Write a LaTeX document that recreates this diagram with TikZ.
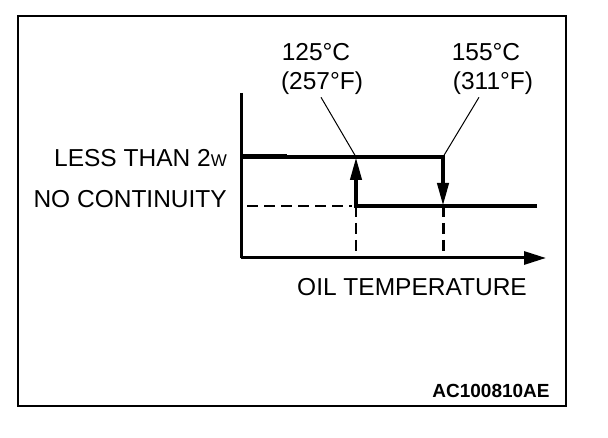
\documentclass[tikz,border=0pt]{standalone}
\usepackage{fontspec}
\setmainfont{Liberation Sans}
\usetikzlibrary{arrows.meta}

\tikzset{
  label text/.style={inner sep=0pt, anchor=base, font=\fontsize{24.5}{29}\selectfont},
  step line/.style={line width=4pt, line join=miter},
  axis line/.style={line width=3pt},
  guide dash/.style={line width=1.3pt, dash pattern=on 11pt off 6pt},
  leader/.style={line width=1pt}
}

\begin{document}
\begin{tikzpicture}[x=1pt, y=-1pt]
\useasboundingbox (0,0) rectangle (608,438);

% frame
\draw [line width=1.5pt] (18,16) rectangle (566,406);

% axes
\coordinate (o) at (241,258);
\coordinate (ytop) at (241,93);
\coordinate (xend) at (546,258);
\draw [axis line] (ytop) -- (o);
\draw [axis line, -{Triangle[length=22pt,width=13pt]}] (o) -- (xend);

% switching points
\coordinate (hi0) at (241,157);
\coordinate (hiA) at (356,157);
\coordinate (hiB) at (443,157);
\coordinate (loA) at (356,206);
\coordinate (loB) at (443,206);
\coordinate (lo1) at (537,206);
\coordinate (baseA) at (356,258);
\coordinate (baseB) at (443,258);
\coordinate (dash0) at (247,206);

\draw [line width=5pt] (hi0) -- (287,157);
\draw [step line, -{Triangle[length=23pt,width=11pt]}] (hi0) -- (hiB) -- (loB);
\draw [step line, -{Triangle[length=23pt,width=11pt]}] (lo1) -- (loA) -- (hiA);

\draw [guide dash] (dash0) -- ([xshift=-4pt]loA);
\draw [guide dash] (loA) -- (baseA);
\draw [guide dash, line width=3pt] (loB) -- (baseB);

% labels
\node [label text] (cA) at (316,61) {125°C};
\node [label text] (fA) at (322,90) {(257°F)};
\node [label text] (cB) at (486,61) {155°C};
\node [label text] (fB) at (493,90) {(311°F)};
\node [label text, anchor=base east] (less) at (227,167) {LESS THAN 2{\fontsize{17}{17}\selectfont W}};
\node [label text, anchor=base east] (none) at (227,208) {NO CONTINUITY};
\node [label text] (oil) at (412,296) {OIL TEMPERATURE};
\node [inner sep=0pt, anchor=base, font=\fontsize{19}{22}\selectfont\bfseries] (code) at (491,397) {AC100810AE};

\draw [leader] ([xshift=-1pt,yshift=-2pt]fA.south) -- (hiA);
\draw [leader] ([xshift=-14pt,yshift=-2pt]fB.south) -- (hiB);
\end{tikzpicture}
\end{document}
